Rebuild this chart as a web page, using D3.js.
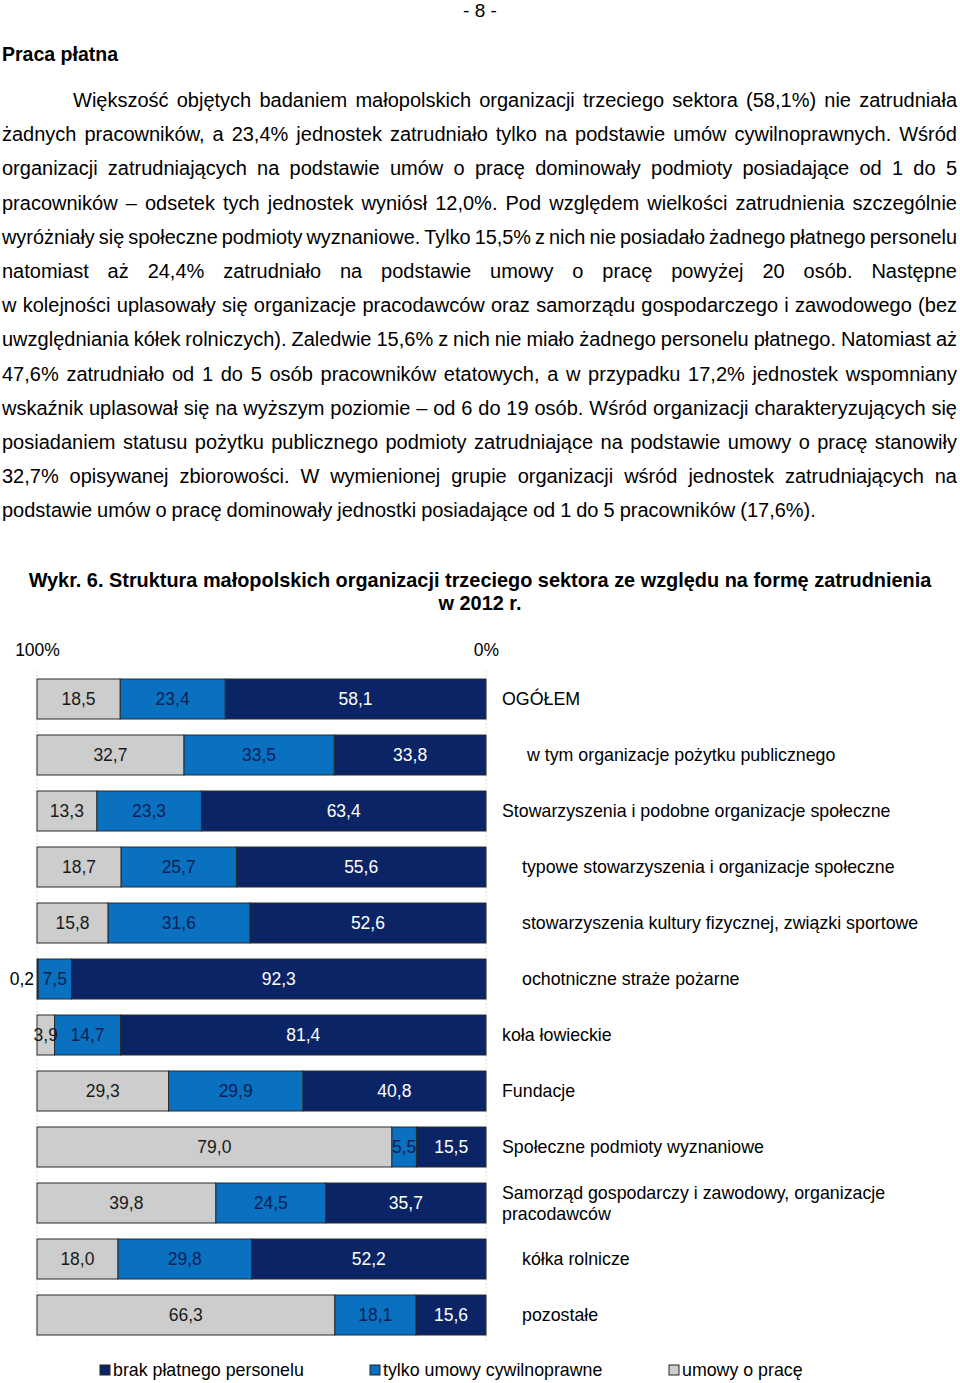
<!DOCTYPE html>
<html><head><meta charset="utf-8">
<script src="https://cdn.jsdelivr.net/npm/d3@7"></script>
<style>
body{margin:0;background:#fff;}
svg{display:block;}
</style></head>
<body>
<svg id="page" width="960" height="1383"></svg>
<script>
// ---------- DATA ----------
const categories = [
  "OGÓŁEM",
  "w tym organizacje pożytku publicznego",
  "Stowarzyszenia i podobne organizacje społeczne",
  "typowe stowarzyszenia i organizacje społeczne",
  "stowarzyszenia kultury fizycznej, związki sportowe",
  "ochotniczne straże pożarne",
  "koła łowieckie",
  "Fundacje",
  "Społeczne podmioty wyznaniowe",
  "Samorząd gospodarczy i zawodowy, organizacje|pracodawców",
  "kółka rolnicze",
  "pozostałe"
];
const labelLevel = [0,2,0,1,1,1,0,0,0,0,1,1];
const brakPersonelu = [58.1,33.8,63.4,55.6,52.6,92.3,81.4,40.8,15.5,35.7,52.2,15.6];
const umowyCywilne  = [23.4,33.5,23.3,25.7,31.6,7.5,14.7,29.9,5.5,24.5,29.8,18.1];
const umowyOPrace   = [18.5,32.7,13.3,18.7,15.8,0.2,3.9,29.3,79.0,39.8,18.0,66.3];
const seriesNames = ["brak płatnego personelu","tylko umowy cywilnoprawne","umowy o pracę"];
const tickValues = [100, 0];

const pageNumber = "- 8 -";
const heading = "Praca płatna";
const paragraphLines = [
  "Większość objętych badaniem małopolskich organizacji trzeciego sektora (58,1%) nie zatrudniała",
  "żadnych pracowników, a 23,4% jednostek zatrudniało tylko na podstawie umów cywilnoprawnych. Wśród",
  "organizacji zatrudniających na podstawie umów o pracę dominowały podmioty posiadające od 1 do 5",
  "pracowników – odsetek tych jednostek wyniósł 12,0%. Pod względem wielkości zatrudnienia szczególnie",
  "wyróżniały się społeczne podmioty wyznaniowe. Tylko 15,5% z nich nie posiadało żadnego płatnego personelu",
  "natomiast aż 24,4% zatrudniało na podstawie umowy o pracę powyżej 20 osób. Następne",
  "w kolejności uplasowały się organizacje pracodawców oraz samorządu gospodarczego i zawodowego (bez",
  "uwzględniania kółek rolniczych). Zaledwie 15,6% z nich nie miało żadnego personelu płatnego. Natomiast aż",
  "47,6% zatrudniało od 1 do 5 osób pracowników etatowych, a w przypadku 17,2% jednostek wspomniany",
  "wskaźnik uplasował się na wyższym poziomie – od 6 do 19 osób. Wśród organizacji charakteryzujących się",
  "posiadaniem statusu pożytku publicznego podmioty zatrudniające na podstawie umowy o pracę stanowiły",
  "32,7% opisywanej zbiorowości. W wymienionej grupie organizacji wśród jednostek zatrudniających na",
  "podstawie umów o pracę dominowały jednostki posiadające od 1 do 5 pracowników (17,6%)."
];
const titleLines = [
  "Wykr. 6. Struktura małopolskich organizacji trzeciego sektora ze względu na formę zatrudnienia",
  "w 2012 r."
];

// ---------- STYLE ----------
const colors = ["#0b2466", "#0a70c0", "#cdcdcd"];
const textColors = ["#ffffff", "#0b1f55", "#1a1a1a"];
const narrow = "'Liberation Sans Narrow','Arial Narrow','Liberation Sans',Arial,sans-serif";
const sans = "'Liberation Sans',Arial,sans-serif";

const svg = d3.select("#page");

// ---------- PAGE TEXT ----------
svg.append("text").attr("x",480).attr("y",17).attr("text-anchor","middle")
  .style("font-family",narrow).style("font-size","19px").text(pageNumber);
svg.append("text").attr("x",2).attr("y",61)
  .style("font-family",narrow).style("font-size","19.5px").style("font-weight","bold").text(heading);

function justifyLine(str, x0, x1, y, justify){
  const t = svg.append("text").attr("y",y)
    .style("font-family",narrow).style("font-size","20px").attr("fill","#000");
  const words = str.split(" ");
  const spans = words.map(w => t.append("tspan").text(w));
  let widths = spans.map(s => s.node().getComputedTextLength());
  const total = d3.sum(widths);
  const minGap = 4;
  let gap = justify ? (x1 - x0 - total)/(words.length-1) : 5;
  if (justify && gap < minGap) {
    gap = minGap;
    const k = (x1 - x0 - minGap*(words.length-1)) / total;
    widths = widths.map(w => w*k);
    spans.forEach((s,i)=> s.attr("textLength", widths[i]).attr("lengthAdjust","spacingAndGlyphs"));
  }
  let x = x0;
  spans.forEach((s,i)=>{ s.attr("x",x); x += widths[i] + gap; });
}
const lineY0 = 107, lineStep = 34.2;
paragraphLines.forEach((l,i)=>{
  const last = i === paragraphLines.length-1;
  justifyLine(l, i===0 ? 73 : 2, 957, lineY0 + i*lineStep, !last);
});

// title
titleLines.forEach((l,i)=>{
  svg.append("text").attr("x",480).attr("y",587 + i*23).attr("text-anchor","middle")
    .style("font-family",narrow).style("font-size","19.9px").style("font-weight","bold").text(l);
});

// ---------- CHART ----------
const x = d3.scaleLinear().domain([0,100]).range([486,37]);
const y = d3.scaleBand().domain(categories).range([671,1343]).paddingInner(16/56).paddingOuter(8/56);

const g = svg.append("g");

// axis tick labels
const axis = d3.axisTop(x).tickValues(tickValues).tickFormat(d=>d+"%").tickSize(0).tickPadding(0);
const ax = g.append("g").attr("transform","translate(0,656)").call(axis);
ax.select(".domain").remove();
ax.selectAll("text").style("font-family",sans).style("font-size","17.5px").attr("fill","#000");

// light gridlines at 0 and 100
g.selectAll("line.grid").data(tickValues).join("line").attr("class","grid")
  .attr("x1",d=>x(d)).attr("x2",d=>x(d)).attr("y1",671).attr("y2",1343)
  .attr("stroke","#dcdcdc").attr("stroke-width",1).attr("stroke-dasharray","2,2");

const rows = categories.map((c,i)=>({cat:c, vals:[brakPersonelu[i], umowyCywilne[i], umowyOPrace[i]]}));
const stack = d3.stack().keys([0,1,2]).value((d,k)=>d.vals[k]);
const stacked = stack(rows);

stacked.forEach((layer,k)=>{
  g.append("g").selectAll("rect").data(layer).join("rect")
    .attr("x",d=>x(d[1])).attr("width",d=>x(d[0])-x(d[1]))
    .attr("y",d=>y(d.data.cat)).attr("height",y.bandwidth())
    .attr("fill",colors[k]).attr("stroke","#2a2a2a").attr("stroke-width",1);
});
stacked.forEach((layer,k)=>{
  g.append("g").selectAll("text").data(layer).join("text")
    .attr("x",d=>{
      const w = x(d[0])-x(d[1]);
      return w < 3 ? x(d[1]) - 3 : (x(d[0])+x(d[1]))/2;
    })
    .attr("text-anchor",d=> (x(d[0])-x(d[1])) < 3 ? "end" : "middle")
    .attr("y",d=>y(d.data.cat)+y.bandwidth()/2).attr("dy","0.36em")
    .attr("fill",d=> (x(d[0])-x(d[1])) < 3 ? "#000" : textColors[k])
    .style("font-family",sans).style("font-size","17.5px")
    .text(d=>d.data.vals[k].toFixed(1).replace(".",","));
});

// category labels
const indentPx = [0,20,25];
categories.forEach((c,i)=>{
  const parts = c.split("|");
  const cy = y(c)+y.bandwidth()/2;
  const t = g.append("text").attr("x",502+indentPx[labelLevel[i]])
    .style("font-family",sans).style("font-size","17.8px").attr("fill","#000");
  parts.forEach((p,j)=>{
    t.append("tspan").attr("x",502+indentPx[labelLevel[i]])
      .attr("y", cy + (j - (parts.length-1)/2)*21).attr("dy","0.36em").text(p);
  });
});

// legend
const legendX = [100, 370, 669];
const lg = g.append("g");
seriesNames.forEach((n,k)=>{
  lg.append("rect").attr("x",legendX[k]).attr("y",1365).attr("width",10).attr("height",10)
    .attr("fill",colors[k]).attr("stroke","#222").attr("stroke-width",1);
  lg.append("text").attr("x",legendX[k]+13).attr("y",1376)
    .style("font-family",sans).style("font-size","17.8px").attr("fill","#000").text(n);
});
</script>
</body></html>
